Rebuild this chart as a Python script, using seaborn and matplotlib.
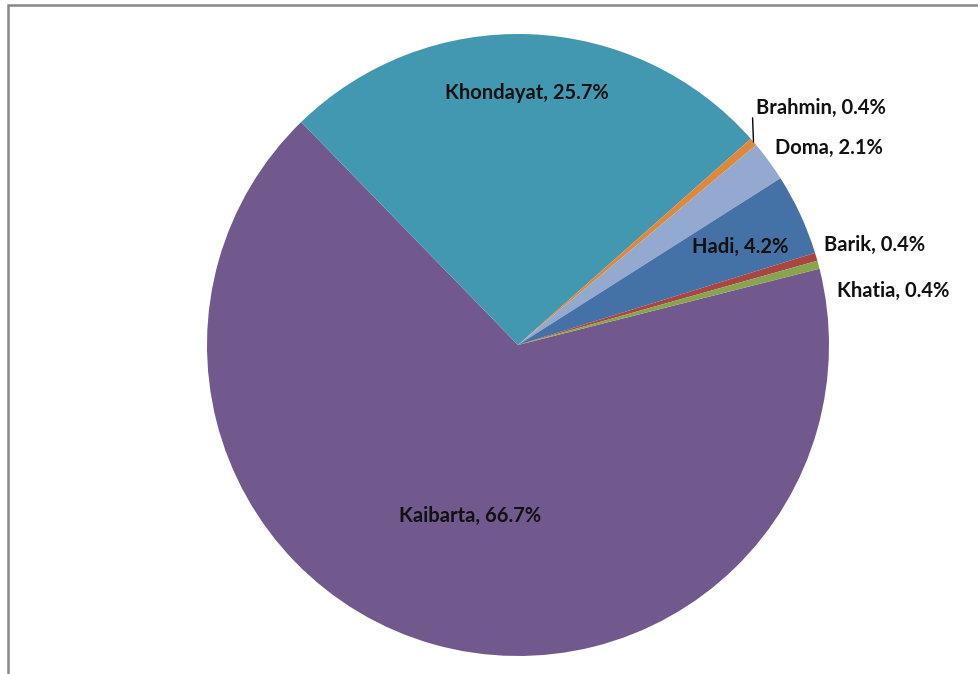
import numpy as np
import matplotlib
matplotlib.use("Agg")
import matplotlib.pyplot as plt
from matplotlib.patches import Rectangle
import seaborn as sns

sns.set_theme(style="white")
plt.rcParams['font.family'] = ['Lato', 'DejaVu Sans']

# caste groups (counts, total 237)
castes = ['Kaibarta', 'Khondayat', 'Brahmin', 'Doma', 'Hadi', 'Barik', 'Khatia']
counts = [158, 61, 1, 5, 10, 1, 1]
colors = ['#71598e', '#4298b0', '#e0883a', '#93a9cf', '#4471a6', '#a94643', '#87a54c']

W, H = 979, 674
cx, cy, R = 518, 345, 311

fig = plt.figure(figsize=(W / 100, H / 100), dpi=100)
ax = fig.add_axes([(cx - R) / W, (H - cy - R) / H, 2 * R / W, 2 * R / H])

# frame round the chart area
fig.patches.append(Rectangle((8 / W, -0.1), 2, 1 - 5 / H + 0.1, transform=fig.transFigure,
                             fill=False, edgecolor='#888888', linewidth=1.8, zorder=0))

startangle = 14.2
wedges, _ = ax.pie(counts, colors=colors, startangle=startangle, counterclock=False,
                   wedgeprops=dict(linewidth=0))
ax.set_xlim(-1, 1)
ax.set_ylim(-1, 1)
ax.set_aspect('auto')
ax.axis('off')

total = sum(counts)
pct = [100 * c / total for c in counts]

# label placement: (radius, angle shift, alignment)
place = {
    'Kaibarta': (0.57, 0.0, 'center'),
    'Khondayat': (0.81, 0.0, 'center'),
    'Brahmin': (1.08, 4.0, 'left'),
    'Doma': (1.04, 1.2, 'left'),
    'Hadi': (0.78, -1.0, 'center'),
    'Barik': (1.035, 1.7, 'left'),
    'Khatia': (1.04, -5.4, 'left'),
}

for w, name, p in zip(wedges, castes, pct):
    mid = 0.5 * (w.theta1 + w.theta2)
    r, shift, ha = place[name]
    a = np.deg2rad(mid + shift)
    ax.text(r * np.cos(a), r * np.sin(a), f'{name}, {p:.1f}%', ha=ha, va='center',
            fontsize=14.5, fontweight='bold', color='#111111')
    if name == 'Brahmin':
        a0 = np.deg2rad(mid)
        a1 = np.deg2rad(mid + 3.3)
        ax.plot([np.cos(a0), 1.05 * np.cos(a1)], [np.sin(a0), 1.05 * np.sin(a1)],
                color='black', linewidth=1, clip_on=False)

fig.savefig('out.png', dpi=100)
